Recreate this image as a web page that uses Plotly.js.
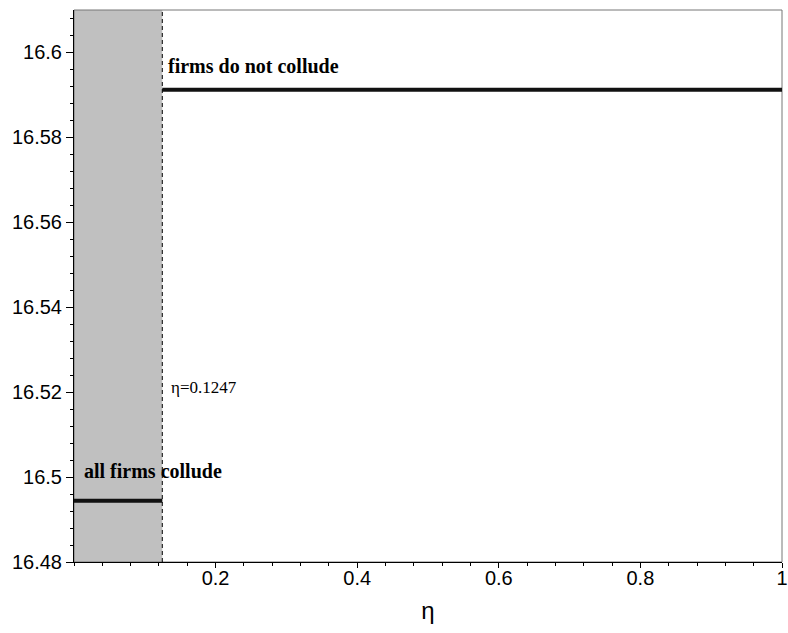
<!DOCTYPE html>
<html>
<head>
<meta charset="utf-8">
<script src="https://cdn.plot.ly/plotly-3.0.1.min.js"></script>
<style>html,body{margin:0;padding:0;background:#fff;}#chart{width:788px;height:633px;}</style>
</head>
<body>
<div id="chart"></div>
<script>
// Data
var etaBreak = 0.1247;
var colludeX = [0, 0.1247];
var colludeY = [16.4944, 16.4944];
var noColludeX = [0.1247, 1];
var noColludeY = [16.5912, 16.5912];
var xTickVals = [0.2, 0.4, 0.6, 0.8, 1];
var xTickText = ["0.2", "0.4", "0.6", "0.8", "1"];
var yTickVals = [16.48, 16.5, 16.52, 16.54, 16.56, 16.58, 16.6];
var yTickText = ["16.48", "16.5", "16.52", "16.54", "16.56", "16.58", "16.6"];
var labelTop = "firms do not collude";
var labelBottom = "all firms collude";
var labelEta = "η=0.1247";

var traces = [
  {x: colludeX, y: colludeY, mode: "lines", line: {color: "#111", width: 4}, hoverinfo: "skip"},
  {x: noColludeX, y: noColludeY, mode: "lines", line: {color: "#111", width: 4}, hoverinfo: "skip"}
];

var tickFont = {family: "Liberation Sans, Arial, sans-serif", size: 20, color: "#000"};

var layout = {
  width: 788, height: 633,
  margin: {l: 74, r: 6, t: 10, b: 71},
  paper_bgcolor: "#fff", plot_bgcolor: "#fff",
  showlegend: false,
  xaxis: {
    range: [0, 1], tickvals: xTickVals, ticktext: xTickText,
    ticks: "outside", ticklen: 5, tickwidth: 1, tickcolor: "#000",
    ticklabelstandoff: -7,
    minor: {dtick: 0.04, tick0: 0, ticks: "outside", ticklen: 3, tickcolor: "#000", showgrid: false},
    showgrid: false, zeroline: false, showline: true, linecolor: "#000", linewidth: 1,
    tickfont: tickFont,
    title: {text: "η", font: {family: "Liberation Sans, Arial, sans-serif", size: 24, color: "#000"}, standoff: 14}
  },
  yaxis: {
    range: [16.48, 16.61], tickvals: yTickVals, ticktext: yTickText,
    ticks: "outside", ticklen: 7, tickwidth: 1, tickcolor: "#000",
    minor: {dtick: 0.004, tick0: 16.48, ticks: "outside", ticklen: 3, tickcolor: "#000", showgrid: false},
    showgrid: false, zeroline: false, showline: true, linecolor: "#000", linewidth: 1,
    tickfont: tickFont
  },
  shapes: [
    {type: "rect", xref: "x", yref: "paper", x0: 0, x1: etaBreak, y0: 0, y1: 1,
     fillcolor: "#c0c0c0", line: {width: 0}, layer: "below"},
    {type: "rect", xref: "paper", yref: "paper", x0: 0, x1: 1, y0: 0, y1: 1,
     line: {color: "#777", width: 1}, fillcolor: "rgba(0,0,0,0)", layer: "below"},
    {type: "line", xref: "x", yref: "paper", x0: etaBreak, x1: etaBreak, y0: 0, y1: 1,
     line: {color: "#000", width: 1, dash: "4px,3px"}}
  ],
  annotations: [
    {x: 0.13, y: 16.5969, xref: "x", yref: "y", text: "<b>" + labelTop + "</b>", showarrow: false,
     xanchor: "left", yanchor: "middle", font: {family: "Liberation Serif, Times New Roman, serif", size: 20, color: "#000"}},
    {x: 0.011, y: 16.5014, xref: "x", yref: "y", text: "<b>" + labelBottom + "</b>", showarrow: false,
     xanchor: "left", yanchor: "middle", font: {family: "Liberation Serif, Times New Roman, serif", size: 20, color: "#000"}},
    {x: 0.134, y: 16.5212, xref: "x", yref: "y", text: labelEta, showarrow: false,
     xanchor: "left", yanchor: "middle", font: {family: "Liberation Serif, Times New Roman, serif", size: 17, color: "#000"}}
  ]
};

Plotly.newPlot("chart", traces, layout, {displayModeBar: false, staticPlot: true});
</script>
</body>
</html>
